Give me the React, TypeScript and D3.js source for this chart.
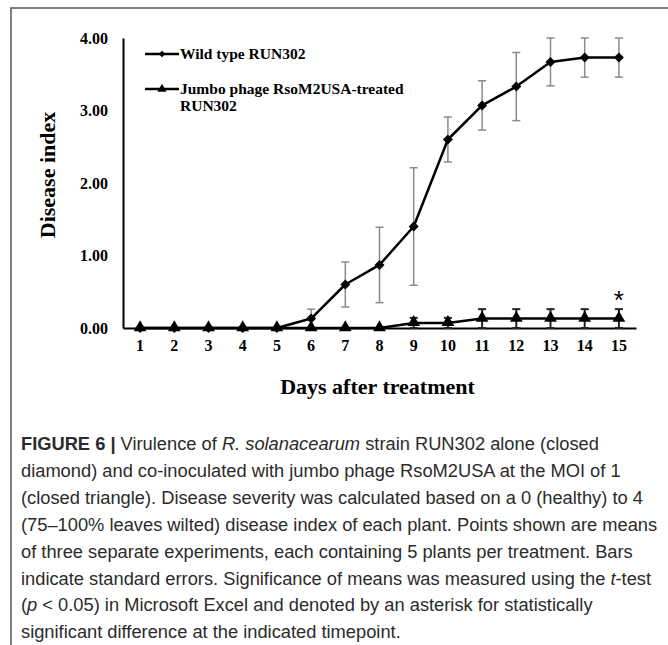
import React, { useEffect, useRef } from "react";
import * as d3 from "d3";

// days after treatment (category axis)
const days = ["1", "2", "3", "4", "5", "6", "7", "8", "9", "10", "11", "12", "13", "14", "15"];
// mean disease index, wild type RUN302
const wildType = [0, 0, 0, 0, 0, 0.13, 0.6, 0.87, 1.4, 2.6, 3.07, 3.33, 3.67, 3.73, 3.73];
const wildTypeErr = [0, 0, 0, 0, 0, 0.13, 0.31, 0.52, 0.81, 0.31, 0.34, 0.47, 0.33, 0.27, 0.27];
// mean disease index, jumbo phage treated
const jumboPhage = [0, 0, 0, 0, 0, 0, 0, 0, 0.07, 0.07, 0.13, 0.13, 0.13, 0.13, 0.13];
const jumboPhageErr = [0, 0, 0, 0, 0, 0, 0, 0, 0.07, 0.07, 0.13, 0.13, 0.13, 0.13, 0.13];
const yTicks = [0, 1, 2, 3, 4];
const legendWild = ["Wild type RUN302"];
const legendJumbo = ["Jumbo phage RsoM2USA-treated", "RUN302"];
const significantDays = ["15"];

// caption lines: [text, style] segments
const captionLines: [string, string][][] = [
  [["FIGURE 6 | ", "b"], ["Virulence of ", ""], ["R. solanacearum", "i"], [" strain RUN302 alone (closed", ""]],
  [["diamond) and co-inoculated with jumbo phage RsoM2USA at the MOI of 1", ""]],
  [["(closed triangle). Disease severity was calculated based on a 0 (healthy) to 4", ""]],
  [["(75\u2013100% leaves wilted) disease index of each plant. Points shown are means", ""]],
  [["of three separate experiments, each containing 5 plants per treatment. Bars", ""]],
  [["indicate standard errors. Significance of means was measured using the ", ""], ["t", "i"], ["-test", ""]],
  [["(", ""], ["p", "i"], [" < 0.05) in Microsoft Excel and denoted by an asterisk for statistically", ""]],
  [["significant difference at the indicated timepoint.", ""]],
];

const serif = "'Liberation Serif', 'Times New Roman', serif";
const sans = "'Liberation Sans', Arial, sans-serif";

const App = () => {
  const ref = useRef<SVGSVGElement>(null);

  useEffect(() => {
    drawChart();
  }, []);

  const drawChart = () => {
    const width = 668;
    const height = 645;
    const margin = { top: 38, right: 32, bottom: 317, left: 123 };

    const svg = d3.select(ref.current);
    svg.selectAll("*").remove();

    // frame around the figure (top + left edge)
    svg
      .append("path")
      .attr("d", `M11,${height} V8 H${width}`)
      .attr("fill", "none")
      .attr("stroke", "#555")
      .attr("stroke-width", 1.5);

    const xScale = d3
      .scaleBand()
      .domain(days)
      .range([margin.left, width - margin.right]);

    const yScale = d3
      .scaleLinear()
      .domain([0, 4])
      .range([height - margin.bottom, margin.top]);

    const cx = (i: number) => xScale(days[i])! + xScale.bandwidth() / 2;

    // y axis
    const yAxis = svg
      .append("g")
      .attr("transform", `translate(${margin.left},0)`)
      .call(
        d3.axisLeft(yScale).tickValues(yTicks).tickFormat(d3.format(".2f")).tickSize(0).tickSizeOuter(0).tickPadding(15)
      );
    yAxis.select(".domain").attr("stroke", "#000").attr("stroke-width", 2);
    yAxis
      .selectAll("text")
      .attr("font-family", serif)
      .attr("font-weight", "bold")
      .attr("font-size", 16)
      .attr("fill", "#000");

    // x axis
    const xAxis = svg
      .append("g")
      .attr("transform", `translate(0,${yScale(0)})`)
      .call(d3.axisBottom(xScale).tickSize(0).tickSizeOuter(0).tickPadding(12));
    xAxis.select(".domain").attr("stroke", "#000").attr("stroke-width", 2);
    xAxis
      .selectAll("text")
      .attr("font-family", serif)
      .attr("font-weight", "bold")
      .attr("font-size", 16)
      .attr("fill", "#000");

    // axis titles
    svg
      .append("text")
      .attr("x", (margin.left + width - margin.right) / 2 - 2)
      .attr("y", 394)
      .attr("text-anchor", "middle")
      .attr("font-family", serif)
      .attr("font-weight", "bold")
      .attr("font-size", 22)
      .text("Days after treatment");

    svg
      .append("text")
      .attr("transform", `translate(55,175) rotate(-90)`)
      .attr("text-anchor", "middle")
      .attr("font-family", serif)
      .attr("font-weight", "bold")
      .attr("font-size", 22)
      .text("Disease index");

    const line = d3
      .line<number>()
      .x((d, i) => cx(i))
      .y((d) => yScale(d));

    const diamond = d3.symbol().type(d3.symbolSquare).size(50);
    const triangle = d3.symbol().type(d3.symbolTriangle).size(70);

    const drawErrors = (vals: number[], errs: number[], color: string, w: number) => {
      const g = svg.append("g").attr("stroke", color).attr("stroke-width", w).attr("fill", "none");
      vals.forEach((v, i) => {
        if (errs[i] <= 0) return;
        const top = yScale(v + errs[i]);
        const bot = yScale(Math.max(0, v - errs[i]));
        const c = cx(i);
        g.append("line").attr("x1", c).attr("x2", c).attr("y1", top).attr("y2", bot);
        g.append("line").attr("x1", c - 4).attr("x2", c + 4).attr("y1", top).attr("y2", top);
        g.append("line").attr("x1", c - 4).attr("x2", c + 4).attr("y1", bot).attr("y2", bot);
      });
    };

    drawErrors(wildType, wildTypeErr, "#8a8a8a", 1.5);
    drawErrors(jumboPhage, jumboPhageErr, "#222", 2);

    // wild type series
    svg
      .append("path")
      .datum(wildType)
      .attr("d", line)
      .attr("fill", "none")
      .attr("stroke", "#000")
      .attr("stroke-width", 2.5)
      .attr("stroke-linejoin", "round");
    svg
      .selectAll(".wt")
      .data(wildType)
      .enter()
      .append("path")
      .attr("class", "wt")
      .attr("d", diamond)
      .attr("transform", (d, i) => `translate(${cx(i)},${yScale(d)}) rotate(45)`)
      .attr("fill", "#000");

    // jumbo phage series
    svg
      .append("path")
      .datum(jumboPhage)
      .attr("d", line)
      .attr("fill", "none")
      .attr("stroke", "#000")
      .attr("stroke-width", 2.5)
      .attr("stroke-linejoin", "round");
    svg
      .selectAll(".jp")
      .data(jumboPhage)
      .enter()
      .append("path")
      .attr("class", "jp")
      .attr("d", triangle)
      .attr("transform", (d, i) => `translate(${cx(i)},${yScale(d) - 0.5})`)
      .attr("fill", "#000");

    // significance asterisk
    significantDays.forEach((day) => {
      const i = days.indexOf(day);
      svg
        .append("text")
        .attr("x", cx(i))
        .attr("y", 309)
        .attr("text-anchor", "middle")
        .attr("font-family", sans)
        .attr("font-size", 26)
        .text("*");
    });

    // legend
    const legend = svg.append("g");
    const legendRows = [
      { y: 54, labels: legendWild, sym: d3.symbol().type(d3.symbolSquare).size(22), rot: 45 },
      { y: 89, labels: legendJumbo, sym: d3.symbol().type(d3.symbolTriangle).size(36), rot: 0 },
    ];
    legendRows.forEach((r) => {
      legend
        .append("line")
        .attr("x1", 145)
        .attr("x2", 179)
        .attr("y1", r.y)
        .attr("y2", r.y)
        .attr("stroke", "#000")
        .attr("stroke-width", 2.5);
      legend
        .append("path")
        .attr("d", r.sym)
        .attr("transform", `translate(162,${r.y}) rotate(${r.rot})`)
        .attr("fill", "#000");
      r.labels.forEach((t, k) => {
        legend
          .append("text")
          .attr("x", 180)
          .attr("y", r.y + 5 + k * 17)
          .attr("font-family", serif)
          .attr("font-weight", "bold")
          .attr("font-size", 15.5)
          .text(t);
      });
    });

    // caption
    const cap = svg.append("g").attr("font-family", sans).attr("font-size", 18.3).attr("fill", "#2b2b2b");
    captionLines.forEach((segs, k) => {
      const t = cap
        .append("text")
        .attr("x", 21)
        .attr("y", 450 + k * 26.9);
      segs.forEach(([s, st]) => {
        t.append("tspan")
          .attr("font-weight", st === "b" ? "bold" : "normal")
          .attr("font-style", st === "i" ? "italic" : "normal")
          .text(s);
      });
    });
  };

  return (
    <div style={{ position: "absolute", left: 0, top: 0 }}>
      <svg ref={ref} width={668} height={645} style={{ display: "block", background: "#fff" }} />
    </div>
  );
};

export default App;
